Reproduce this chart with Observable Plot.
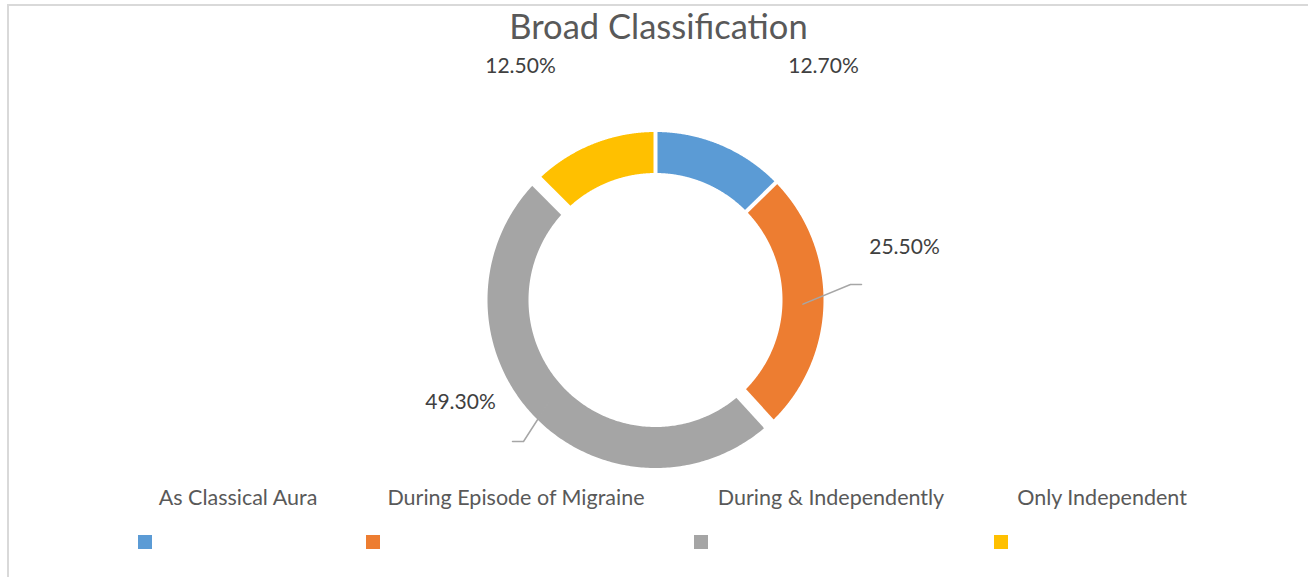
<!DOCTYPE html>
<html><head><meta charset="utf-8">
<script src="https://cdn.jsdelivr.net/npm/d3@7"></script>
<script src="https://cdn.jsdelivr.net/npm/@observablehq/plot@0.6"></script>
<style>
body{margin:0;background:#fff;}
#chart{position:relative;width:1308px;height:577px;overflow:hidden;font-family:Lato,"Open Sans",sans-serif;}
#frame{position:absolute;left:7px;top:4px;width:1310px;height:600px;border-top:2px solid #d9d9d9;border-left:2px solid #d9d9d9;box-sizing:border-box;}
#plot{position:absolute;left:0;top:0;}
.lgt{position:absolute;top:484px;font-size:21.5px;color:#595959;white-space:nowrap;transform:translateX(-50%);line-height:26px;}
.lgs{position:absolute;top:535px;width:14px;height:14px;}
</style></head>
<body><div id="chart"><div id="frame"></div><div id="plot"></div><div id="legend"></div></div>
<script>
// ---- data ----
const title = "Broad Classification";
const categories = ["As Classical Aura", "During Episode of Migraine", "During & Independently", "Only Independent"];
const percents = [12.7, 25.5, 49.3, 12.5];
const valueLabels = ["12.70%", "25.50%", "49.30%", "12.50%"];
const colors = ["#5B9BD5", "#ED7D31", "#A5A5A5", "#FFC000"];

// ---- layout ----
const W = 1308, H = 577, cx = 655, cy = 299.5, R = 168; // px per unit radius
const rInner = 127 / R, rMid = (1 + rInner) / 2, ringPx = (1 - rInner) * R;
const gapPx = [4, 4, 13, 13]; // gap at start of each slice
// label centres (px offsets from centre, y down)
const labelOffsets = [[168, -233.5], [249, -52.5], [-195, 102.5], [-135, -233.5]];
// leader lines (elbow and end, px offsets from centre) - null when none
const leaders = [null, [[195, -15.5], [206, -15.5]], [[-132, 141.5], [-143, 141.5]], null];

const total = d3.sum(percents);
const starts = [];
let acc = 0;
for (const p of percents) { starts.push(acc / total); acc += p; }
const polar = (t, r) => ({x: r * Math.sin(2 * Math.PI * t), y: r * Math.cos(2 * Math.PI * t)});

const ring = [];
categories.forEach((c, i) => {
  const t0 = starts[i], t1 = starts[i] + percents[i] / total;
  const n = 240;
  for (let k = 0; k <= n; k++) {
    const t = t0 + (t1 - t0) * k / n;
    ring.push({cat: c, ...polar(t, rMid)});
  }
});
const gaps = categories.map((c, i) => {
  const a = polar(starts[i], rInner - 0.05), b = polar(starts[i], 1.05);
  return {x1: a.x, y1: a.y, x2: b.x, y2: b.y, w: gapPx[i]};
});
const labels = categories.map((c, i) => ({
  x: labelOffsets[i][0] / R, y: -labelOffsets[i][1] / R, text: valueLabels[i]
}));
const leaderPts = [];
categories.forEach((c, i) => {
  if (!leaders[i]) return;
  const mid = starts[i] + percents[i] / total / 2;
  leaderPts.push({cat: c, ...polar(mid, rMid)});
  for (const [dx, dy] of leaders[i]) leaderPts.push({cat: c, x: dx / R, y: -dy / R});
});

const plot = Plot.plot({
  width: W, height: H,
  margin: 0,
  x: {domain: [-cx / R, (W - cx) / R], axis: null},
  y: {domain: [-(H - cy) / R, cy / R], axis: null},
  color: {domain: categories, range: colors},
  style: {fontFamily: "Lato, 'Open Sans', sans-serif", background: "transparent"},
  marks: [
    Plot.line(ring, {x: "x", y: "y", z: "cat", stroke: "cat", strokeWidth: ringPx, strokeLinecap: "butt", curve: "linear"}),
    Plot.link(gaps, {x1: "x1", y1: "y1", x2: "x2", y2: "y2", stroke: "white", strokeWidth: d => d.w, strokeLinecap: "butt"}),
    Plot.line(leaderPts, {x: "x", y: "y", z: "cat", stroke: "#a6a6a6", strokeWidth: 1.5}),
    Plot.text(labels, {x: "x", y: "y", text: "text", fontSize: 21, fill: "#404040", lineAnchor: "middle"}),
    Plot.text([title], {frameAnchor: "top", dy: 27, dx: 4, text: d => d, fontSize: 34.5, fill: "#595959", lineAnchor: "middle"})
  ]
});
document.getElementById("plot").appendChild(plot);

// ---- legend ----
const textCenters = [238, 516, 831, 1102];
const swatchLefts = [138, 366, 694, 994];
const lg = document.getElementById("legend");
categories.forEach((c, i) => {
  const t = document.createElement("div");
  t.className = "lgt"; t.textContent = c; t.style.left = textCenters[i] + "px";
  lg.appendChild(t);
  const s = document.createElement("div");
  s.className = "lgs"; s.style.left = swatchLefts[i] + "px"; s.style.background = colors[i];
  lg.appendChild(s);
});
</script>
</body></html>
